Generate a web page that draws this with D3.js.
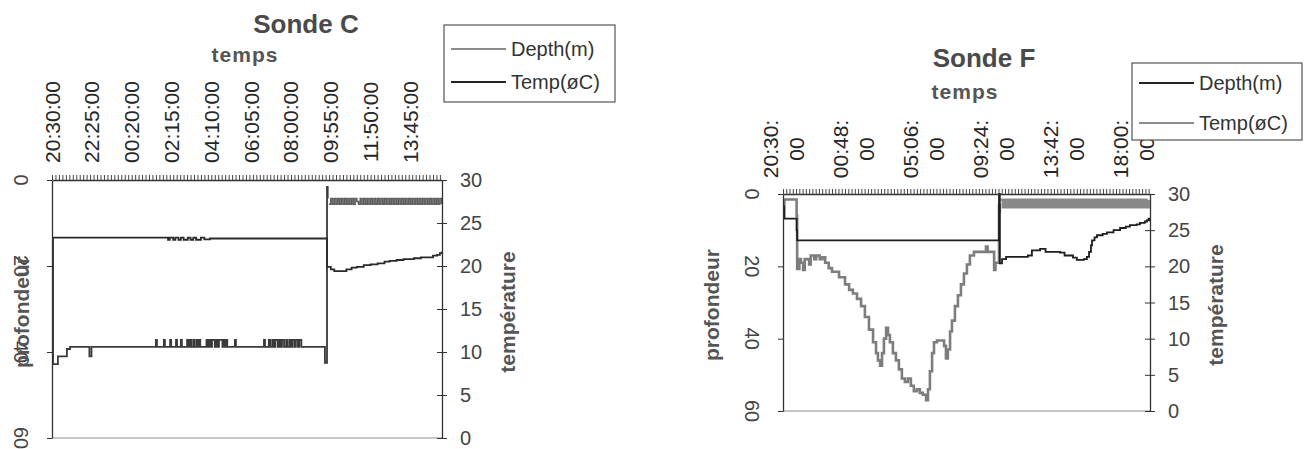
<!DOCTYPE html>
<html><head><meta charset="utf-8">
<script src="https://cdn.jsdelivr.net/npm/d3@7"></script>
<style>
html,body{margin:0;padding:0;background:#fff;}
svg{display:block;font-family:"Liberation Sans",Arial,Helvetica,sans-serif;}
</style></head><body>
<svg id="chart" width="1314" height="449"></svg>
<script>
// ---------------- data ----------------
const cTitle = "Sonde C";
const fTitle = "Sonde F";
const xTitle = "temps";
const yLeftTitle = "profondeur";
const yRightTitle = "température";
const legendLabels = ["Depth(m)", "Temp(øC)"];
const startClock = "20:30:00";
const cTimeLabels = ["20:30:00","22:25:00","00:20:00","02:15:00","04:10:00","06:05:00","08:00:00","09:55:00","11:50:00","13:45:00"];
const fTimeLabels = ["20:30:00","00:48:00","05:06:00","09:24:00","13:42:00","18:00:00"];
const depthTicks = [0, 20, 40, 60];
const tempTicks = [0, 5, 10, 15, 20, 25, 30];
const cEndMinutes = 1126;
const fEndMinutes = 1349;

// Sonde C - depth (m) : [minutes since 20:30, value]
const cDepth = [[0,13.5],[3,42.8],[17,41],[43,39.3],[52,38.8],[108,41],[114,38.8],
 [300,37.2],[303,38.8],[323,37.2],[326,38.8],[341,37.2],[344,38.8],[358,37.2],[361,38.8],[372,37.2],[375,38.8],
 [390,37.2],[393,38.8],[398,37.2],[402,38.8],[408,37.2],[412,38.8],[418,37.2],[421,38.8],[425,37.2],[428,38.8],
 [446,37.2],[449,38.8],[454,37.2],[458,38.8],[462,37.2],[470,38.8],[474,37.2],[477,38.8],[482,37.2],[492,38.8],[497,37.2],[500,38.8],[503,37.2],[506,38.8],
 [528,37.2],[531,38.8],
 [612,37.2],[615,38.8],[626,37.2],[630,38.8],[636,37.2],[640,38.8],[645,37.2],[652,38.8],[656,37.2],[660,38.8],[664,37.2],[670,38.8],[676,37.2],[680,38.8],[686,37.2],[690,38.8],[694,37.2],[700,38.8],[704,37.2],[710,38.8],[714,37.2],[720,38.8],
 [788,42.5],[794,1.6],[796,4.3]];
// Sonde C - depth after recovery, sampled every 5 min from minute 800
const cDepthBandStart = 800, cDepthBandStep = 5;
const cDepthBand = [5.6,4.3,5.6,4.3,5.6,4.3,5.6,4.3,5.6,4.3,
 5.6,4.3,5.6,4.3,5.6,4.3,5.0,5.6,4.3,5.6,
 4.3,5.6,4.3,5.6,4.3,5.6,4.3,5.6,4.3,5.6,
 4.3,5.6,4.3,5.6,4.3,5.6,4.3,5.6,4.3,5.6,
 4.3,5.6,4.3,5.6,4.3,5.6,4.3,5.6,4.3,5.6,
 4.3,5.6,4.3,5.6,4.3,5.6,4.3,5.6,4.3,5.6,
 4.3,5.6,4.3,5.6,4.3,5.6];
// Sonde C - temperature (°C)
const cTemp = [[0,23.3],[335,23.05],[340,23.3],[350,23.05],[356,23.3],[365,23.05],[372,23.3],[380,23.05],[392,23.3],[400,23.05],[408,23.3],[416,23.05],[430,23.3],[440,23.1],[456,23.2],
 [794,19.9],[805,19.6],[815,19.4],[835,19.4],[850,19.6],[865,19.8],[880,19.9],[900,20.1],[920,20.2],[940,20.3],[960,20.5],[975,20.6],[995,20.7],[1015,20.8],[1045,20.9],[1065,21.0],[1085,21.0],[1100,21.2],[1112,21.3],[1120,21.5],[1126,21.7]];

// Sonde F - depth (m)
const fDepth = [[0,6.5],[5,1.5],[48,1.5],[50,6],[52,20.7],[60,18.0],[66,19.0],[74,21.0],[80,18.0],[96,19.5],[102,17.0],[115,18.0],[122,17.0],[135,18.0],[145,17.5],[155,19.0],[168,20.5],[180,21.5],
 [206,23],[228,25],[243,26.5],[257,27.5],[272,29],[287,31],[301,34],[316,37.5],[331,41],[342,44],[349,46],[357,47.5],[364,44],[371,40],[379,37],[386,39],[393,41],[404,44],[415,46],[426,48.5],[437,51],[448,52],[459,51],[470,53],[481,54.5],[492,54],[503,55],[514,55.5],[526,57],[533,54],[540,49],[548,44],[555,41],[566,40.5],[592,42],[599,45.5],[606,43],[614,38],[621,35],[632,31],[643,28],[654,25],[665,22],[676,19.5],[687,17],[702,16],[746,14.5],[752,16],[776,21],[781,19],[794,3.0],[797,5.3]];
// Sonde F - depth after recovery, sampled every 8 min from minute 800
const fDepthBandStart = 800, fDepthBandStep = 8;
const fDepthBand = [1.6,3.7,1.6,3.7,1.6,3.7,1.6,3.7,1.6,3.7,
 1.6,3.7,1.6,3.7,1.6,3.7,1.6,3.7,1.6,3.7,
 1.6,3.7,1.6,3.7,1.6,3.7,1.6,3.7,1.6,3.7,
 1.6,3.7,1.6,3.7,1.6,3.7,1.6,3.7,1.6,3.7,
 1.6,3.7,1.6,3.7,1.6,3.7,1.6,3.7,1.6,3.7,
 1.6,3.7,1.6,3.7,1.6,3.7,1.6,3.7,1.6,3.7,
 1.6,3.7,1.6,3.7,1.6,3.7,1.6,3.7,1.6];
// Sonde F - temperature (°C)
const fTemp = [[0,28.3],[4,26.6],[47,26.6],[50,25],[52,23.6],[794,30],[797,20.4],[805,21.0],[820,21.3],[900,21.5],[915,22.2],[945,22.4],[965,22.0],[1018,21.9],[1035,21.5],[1066,21.2],[1080,20.9],[1106,21.0],[1117,21.3],[1125,22.0],[1132,22.9],[1136,23.6],[1145,24.0],[1154,24.3],[1175,24.5],[1191,24.7],[1215,25.0],[1239,25.3],[1260,25.5],[1275,25.7],[1300,25.8],[1312,26.0],[1330,26.2],[1338,26.4],[1344,26.6],[1349,26.2]];

// ---------------- helpers ----------------
function toMin(s){
  const p = s.split(":").map(Number), q = startClock.split(":").map(Number);
  let m = (p[0]*60+p[1]) - (q[0]*60+q[1]);
  if (m < 0) m += 1440;
  return m;
}
function bandPoints(start, step, vals){ return vals.map((v,i)=>[start+i*step, v]); }

const svg = d3.select("#chart");
const FONT_NUM = 20;

function drawChart(cfg){
  const g = svg.append("g");
  const x = d3.scaleLinear().domain([0, cfg.end]).range([cfg.left, cfg.right]);
  const yD = d3.scaleLinear().domain([0, 60]).range([cfg.top, cfg.bottom]);
  const yT = d3.scaleLinear().domain([0, 30]).range([cfg.bottom, cfg.top]);

  g.append("line").attr("x1", cfg.left).attr("x2", cfg.right).attr("y1", cfg.bottom).attr("y2", cfg.bottom)
    .attr("stroke", "#8f8f8f").attr("stroke-width", 1.2);

  g.append("clipPath").attr("id", "clip"+cfg.id).append("rect")
    .attr("x", cfg.left).attr("y", cfg.top-2).attr("width", cfg.right-cfg.left).attr("height", cfg.bottom-cfg.top+2);
  const plot = g.append("g").attr("clip-path", `url(#clip${cfg.id})`);

  const lineD = d3.line().x(d=>x(d[0])).y(d=>yD(d[1])).curve(d3.curveStepAfter);
  const lineT = d3.line().x(d=>x(d[0])).y(d=>yT(d[1])).curve(d3.curveStepAfter);

  plot.append("path").datum(cfg.depth).attr("d", lineD).attr("fill","none")
    .attr("stroke", cfg.depthColor).attr("stroke-width", cfg.depthWidth);
  plot.append("path").datum(cfg.band).attr("d", lineD).attr("fill","none")
    .attr("stroke", cfg.bandColor).attr("stroke-width", cfg.bandWidth);
  plot.append("path").datum(cfg.temp).attr("d", lineT).attr("fill","none")
    .attr("stroke", cfg.tempColor).attr("stroke-width", cfg.tempWidth);

  const minor = d3.range(0, cfg.end+1, cfg.minorStep);
  const topAx = g.append("g").attr("transform", `translate(0,${cfg.top})`)
    .call(d3.axisTop(x).tickValues(minor).tickSize(5).tickSizeOuter(0).tickFormat(""));
  topAx.select(".domain").attr("stroke", "#333").attr("stroke-width", 1.3);
  topAx.selectAll(".tick line").attr("stroke", "#444").attr("stroke-width", 1);

  const leftAx = g.append("g").attr("transform", `translate(${cfg.left},0)`)
    .call(d3.axisLeft(yD).tickValues(depthTicks).tickSize(5).tickSizeOuter(0).tickFormat(""));
  leftAx.select(".domain").attr("stroke", "#333").attr("stroke-width", 1.3);
  leftAx.selectAll(".tick line").attr("stroke", "#333");
  g.selectAll(".lnum").data(depthTicks).enter().append("text")
    .attr("transform", d=>`translate(${cfg.left-31},${yD(d)}) rotate(90)`)
    .attr("text-anchor","middle").attr("dominant-baseline","central")
    .attr("font-size", FONT_NUM).attr("fill","#444").text(d=>d);

  const rightAx = g.append("g").attr("transform", `translate(${cfg.right},0)`)
    .call(d3.axisRight(yT).tickValues(tempTicks).tickSize(5).tickSizeOuter(0).tickFormat(""));
  rightAx.select(".domain").attr("stroke", "#333").attr("stroke-width", 1.3);
  rightAx.selectAll(".tick line").attr("x1", -5).attr("stroke", "#333");
  g.selectAll(".rnum").data(tempTicks).enter().append("text")
    .attr("x", cfg.right+18).attr("y", d=>yT(d)).attr("dominant-baseline","central")
    .attr("font-size", FONT_NUM).attr("fill","#444").text(d=>d);

  g.append("text").attr("transform", `translate(${cfg.left-cfg.yTitleOffset},${cfg.yTitleY}) rotate(-90)`)
    .attr("text-anchor","middle").attr("dominant-baseline","central")
    .attr("font-size",21).attr("font-weight","bold").attr("fill","#555").text(yLeftTitle);
  g.append("text").attr("transform", `translate(${cfg.right+65},${cfg.yTitleY}) rotate(-90)`)
    .attr("text-anchor","middle").attr("dominant-baseline","central")
    .attr("font-size",21).attr("font-weight","bold").attr("fill","#555").text(yRightTitle);

  cfg.labels.forEach(lab=>{
    const tx = x(toMin(lab));
    if (cfg.twoLine){
      const parts = [lab.slice(0,6), lab.slice(6)];
      parts.forEach((p,i)=>{
        g.append("text").attr("transform", `translate(${tx + (i===0?-13:13)},${cfg.labelY}) rotate(-90)`)
          .attr("text-anchor","middle").attr("dominant-baseline","central")
          .attr("font-size",21).attr("fill","#262626").text(p);
      });
    } else {
      g.append("text").attr("transform", `translate(${tx},${cfg.labelY}) rotate(-90)`)
        .attr("text-anchor","middle").attr("dominant-baseline","central")
        .attr("font-size",21).attr("fill","#262626").text(lab);
    }
  });

  g.append("text").attr("x", cfg.titleX).attr("y", cfg.titleY).attr("text-anchor","middle")
    .attr("font-size",26).attr("font-weight","bold").attr("fill","#4a4a4a").text(cfg.title);
  g.append("text").attr("x", cfg.xTitleX).attr("y", cfg.xTitleY).attr("text-anchor","middle")
    .attr("font-size",21).attr("font-weight","bold").attr("letter-spacing",1).attr("fill","#555").text(xTitle);

  const L = cfg.legend;
  const lg = g.append("g");
  lg.append("rect").attr("x", L.x).attr("y", L.y).attr("width", L.w).attr("height", L.h)
    .attr("fill","#fff").attr("stroke","#555").attr("stroke-width",1.2);
  legendLabels.forEach((t,i)=>{
    const yy = L.y + L.rows[i];
    lg.append("line").attr("x1", L.x+7).attr("x2", L.x+62).attr("y1", yy).attr("y2", yy)
      .attr("stroke", L.colors[i]).attr("stroke-width", L.widths[i]);
    lg.append("text").attr("x", L.x+67).attr("y", yy).attr("dominant-baseline","central")
      .attr("font-size",20).attr("fill","#333").text(t);
  });
}

drawChart({
  id:"C", end:cEndMinutes, left:52, right:442, top:180, bottom:438, minorStep:10,
  depth:cDepth, band:bandPoints(cDepthBandStart, cDepthBandStep, cDepthBand), temp:cTemp,
  depthColor:"#3a3a3a", depthWidth:1.8, bandColor:"#5e5e5e", bandWidth:1.6, tempColor:"#2a2a2a", tempWidth:1.8,
  labels:cTimeLabels, twoLine:false, labelY:122,
  title:cTitle, titleX:306, titleY:33, xTitleX:245, xTitleY:62, yTitleY:312, yTitleOffset:31,
  legend:{x:444, y:25, w:171, h:77, rows:[24,57], colors:["#666","#222"], widths:[1.3,2]}
});
drawChart({
  id:"F", end:fEndMinutes, left:783, right:1150, top:194, bottom:411, minorStep:12,
  depth:fDepth, band:bandPoints(fDepthBandStart, fDepthBandStep, fDepthBand), temp:fTemp,
  depthColor:"#7d7d7d", depthWidth:2.6, bandColor:"#888", bandWidth:2.4, tempColor:"#1e1e1e", tempWidth:1.8,
  labels:fTimeLabels, twoLine:true, labelY:149,
  title:fTitle, titleX:984, titleY:67, xTitleX:965, xTitleY:99, yTitleY:305, yTitleOffset:72,
  legend:{x:1132, y:63, w:170, h:77, rows:[20,60], colors:["#222","#666"], widths:[2,1.3]}
});
</script>
</body></html>
